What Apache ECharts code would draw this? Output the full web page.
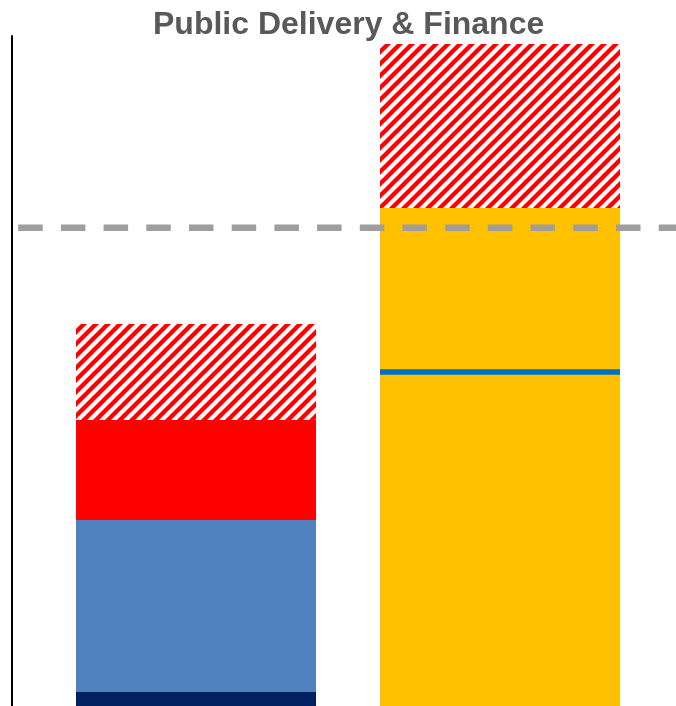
<!DOCTYPE html>
<html>
<head>
<meta charset="utf-8">
<script src="https://cdn.jsdelivr.net/npm/echarts@6/dist/echarts.min.js"></script>
<style>
  html, body { margin: 0; padding: 0; background: #ffffff; }
  #chart { width: 676px; height: 706px; }
</style>
</head>
<body>
<div id="chart"></div>
<script>
// ---- data ----
var categories = ['Current', 'Proposed'];
var navyValues = [1.4, 0];
var blueValues = [17.2, 0];
var redValues = [10.0, 0];
var yellowValues = [0, 49.8];
var hatchedValues = [9.6, 16.4];
var markerValue = [1, 33.4];      // [category index, value]
var targetValue = 47.83;
var axisMax = 67;
var titleText = 'Public Delivery & Finance';

// ---- styles ----
var BAR_W = 240;
function hatchPattern() {
  var S = 12;
  var c = document.createElement('canvas');
  c.width = S; c.height = S;
  var ctx = c.getContext('2d');
  ctx.fillStyle = '#ffffff';
  ctx.fillRect(0, 0, S, S);
  ctx.strokeStyle = '#ff0000';
  ctx.lineWidth = 4.4;
  ctx.lineCap = 'square';
  [-S, 0, S].forEach(function (x0) {
    ctx.beginPath();
    ctx.moveTo(x0 - 6, S + 6);
    ctx.lineTo(x0 + S + 6, -6);
    ctx.stroke();
  });
  return { image: c, repeat: 'repeat' };
}

var chart = echarts.init(document.getElementById('chart'), null, { renderer: 'canvas' });

function barSeries(name, data, color) {
  return {
    name: name, type: 'bar', stack: 'total', data: data,
    barWidth: BAR_W, itemStyle: { color: color }, animation: false, z: 2
  };
}

chart.setOption({
  animation: false,
  title: {
    text: titleText,
    left: 148, top: 4,
    textStyle: { fontFamily: 'Liberation Sans, Arial, sans-serif', fontSize: 32, fontWeight: 'bold', color: '#595959' }
  },
  grid: { left: 44, right: 24, top: 36, bottom: 0, containLabel: false },
  xAxis: {
    type: 'category', data: categories,
    axisLine: { show: false }, axisTick: { show: false }, axisLabel: { show: false }
  },
  yAxis: {
    type: 'value', min: 0, max: axisMax, offset: 32,
    axisLine: { show: true, lineStyle: { color: '#000000', width: 2 } },
    axisTick: { show: false }, axisLabel: { show: false }, splitLine: { show: false }
  },
  series: [
    barSeries('Navy', navyValues, '#002060'),
    barSeries('Blue', blueValues, '#4F81BD'),
    barSeries('Red', redValues, '#FF0000'),
    barSeries('Yellow', yellowValues, '#FFC000'),
    barSeries('Hatched', hatchedValues, hatchPattern()),
    {
      type: 'custom', name: 'Marker', z: 5, clip: false,
      data: [markerValue],
      renderItem: function (params, api) {
        var p = api.coord([api.value(0), api.value(1)]);
        return {
          type: 'line',
          shape: { x1: p[0] - BAR_W / 2, y1: p[1], x2: p[0] + BAR_W / 2, y2: p[1] },
          style: { stroke: '#0070C0', lineWidth: 5.5 }
        };
      }
    },
    {
      type: 'custom', name: 'Target', z: 6, clip: false,
      data: [[0, targetValue]],
      renderItem: function (params, api) {
        var p = api.coord([api.value(0), api.value(1)]);
        return {
          type: 'line',
          shape: { x1: -24.5, y1: p[1], x2: api.getWidth() + 10, y2: p[1] },
          style: { stroke: '#9E9E9E', lineWidth: 6.5, lineDash: [24.5, 18.2] }
        };
      }
    }
  ]
});
</script>
</body>
</html>
